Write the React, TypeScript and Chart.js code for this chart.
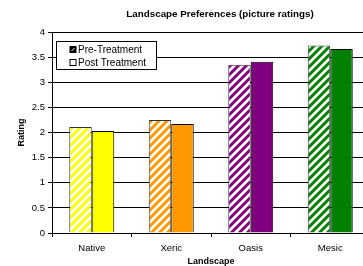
import React, { useEffect, useRef } from "react";
import { Chart, registerables } from "chart.js";

Chart.register(...registerables);

const categories = ["Native", "Xeric", "Oasis", "Mesic"];
const preTreatment = [2.11, 2.25, 3.35, 3.73];
const postTreatment = [2.03, 2.17, 3.41, 3.66];
const barColors = ["#FFFF00", "#FF9900", "#800080", "#008000"];
const seriesLabels = ["Pre-Treatment", "Post Treatment"];
const yTicks = [0, 0.5, 1, 1.5, 2, 2.5, 3, 3.5, 4];
const chartTitle = "Landscape Preferences (picture ratings)";

const FONT = "Arial, 'Liberation Sans', sans-serif";

function makeStripePattern(ctx: CanvasRenderingContext2D, color: string) {
  const size = 8;
  const c = document.createElement("canvas");
  c.width = size;
  c.height = size;
  const p = c.getContext("2d")!;
  p.fillStyle = "#ffffff";
  p.fillRect(0, 0, size, size);
  p.strokeStyle = color;
  p.lineWidth = 3;
  p.lineCap = "square";
  p.beginPath();
  p.moveTo(0, size);
  p.lineTo(size, 0);
  p.moveTo(-size / 2, size / 2);
  p.lineTo(size / 2, -size / 2);
  p.moveTo(size / 2, size * 1.5);
  p.lineTo(size * 1.5, size / 2);
  p.stroke();
  return ctx.createPattern(c, "repeat")!;
}

const titlePlugin = {
  id: "fixedTitle",
  afterDraw(chart: any) {
    const ctx: CanvasRenderingContext2D = chart.ctx;
    ctx.save();
    ctx.font = `bold 9.8px ${FONT}`;
    ctx.fillStyle = "#000000";
    ctx.textAlign = "center";
    ctx.textBaseline = "middle";
    ctx.fillText(chartTitle, 220, 14);
    ctx.restore();
  },
};

const legendBoxPlugin = {
  id: "legendBox",
  afterDraw(chart: any) {
    const ctx: CanvasRenderingContext2D = chart.ctx;
    const left = chart.chartArea.left;
    const top = chart.chartArea.top;
    const x = left + 4.5;
    const y = top + 9.5;
    const w = 100;
    const h = 28;
    ctx.save();
    ctx.fillStyle = "#ffffff";
    ctx.fillRect(x, y, w, h);
    ctx.strokeStyle = "#000000";
    ctx.lineWidth = 1;
    ctx.strokeRect(x, y, w, h);
    const labels = chart.data.datasets.map((d: any) => d.label);
    ctx.font = `10px ${FONT}`;
    ctx.textBaseline = "middle";
    ctx.textAlign = "left";
    labels.forEach((lab: string, i: number) => {
      const cy = y + 8 + i * 13;
      const ix = x + 13.5;
      const iy = cy - 3;
      if (i === 0) {
        ctx.fillStyle = "#000000";
        ctx.fillRect(ix, iy, 6, 6);
        ctx.strokeStyle = "#ffffff";
        ctx.lineWidth = 1;
        ctx.beginPath();
        ctx.moveTo(ix + 1.5, iy + 4.5);
        ctx.lineTo(ix + 4.5, iy + 1.5);
        ctx.stroke();
        ctx.strokeStyle = "#000000";
        ctx.strokeRect(ix, iy, 6, 6);
      } else {
        ctx.fillStyle = "#ffffff";
        ctx.fillRect(ix, iy, 6, 6);
        ctx.strokeStyle = "#000000";
        ctx.lineWidth = 1;
        ctx.strokeRect(ix, iy, 6, 6);
      }
      ctx.fillStyle = "#000000";
      ctx.fillText(lab, x + 21.5, cy + 0.5);
    });
    ctx.restore();
  },
};

export default function App() {
  const ref = useRef<HTMLCanvasElement>(null);
  useEffect(() => {
    const canvas = ref.current!;
    const ctx = canvas.getContext("2d")!;
    const patterns = barColors.map((c) => makeStripePattern(ctx, c));
    const chart = new Chart(canvas, {
      type: "bar",
      data: {
        labels: categories,
        datasets: [
          {
            label: seriesLabels[0],
            data: preTreatment,
            backgroundColor: patterns as any,
            borderColor: "#333333",
            borderWidth: 1,
            categoryPercentage: 0.566,
            barPercentage: 1,
          },
          {
            label: seriesLabels[1],
            data: postTreatment,
            backgroundColor: barColors,
            borderColor: "#000000",
            borderWidth: 1,
            categoryPercentage: 0.566,
            barPercentage: 1,
          },
        ],
      },
      options: {
        responsive: false,
        animation: false,
        layout: { padding: { left: 0, right: 70, top: 32, bottom: 0 } },
        plugins: {
          legend: { display: false },
          tooltip: { enabled: false },
          title: { display: false },
        },
        scales: {
          x: {
            grid: {
              display: true,
              drawOnChartArea: false,
              drawTicks: true,
              tickLength: 4,
              color: "#000000",
              offset: true,
            },
            border: { display: true, color: "#000000", width: 1 },
            ticks: {
              color: "#000000",
              font: { family: FONT, size: 9.5 },
              padding: 6,
              maxRotation: 0,
            },
            title: {
              display: true,
              text: "Landscape",
              color: "#000000",
              font: { family: FONT, size: 9, weight: "bold", lineHeight: 1 },
              padding: { top: 0, bottom: 0 },
            },
            afterFit: (scale: any) => {
              scale.height = 33;
            },
          },
          y: {
            min: 0,
            max: 4,
            afterBuildTicks: (scale: any) => {
              scale.ticks = yTicks.map((v) => ({ value: v }));
            },
            grid: {
              color: "#000000",
              lineWidth: 1,
              drawTicks: true,
              tickLength: 4,
            },
            border: { display: true, color: "#000000", width: 1 },
            ticks: {
              color: "#000000",
              font: { family: FONT, size: 9.5 },
              padding: 3,
              callback: (v: any) => String(v),
            },
            title: {
              display: true,
              text: "Rating",
              color: "#000000",
              font: { family: FONT, size: 9, weight: "bold", lineHeight: 1.2 },
              padding: { top: 16.6, bottom: 0 },
            },
            afterFit: (scale: any) => {
              scale.width = 52;
            },
          },
        },
      },
      plugins: [legendBoxPlugin, titlePlugin],
    });
    return () => chart.destroy();
  }, []);
  return (
    <div
      style={{
        position: "fixed",
        left: 0,
        top: 0,
        width: 363,
        height: 266,
        overflow: "hidden",
        background: "#ffffff",
      }}
    >
      <canvas ref={ref} width={440} height={266} style={{ display: "block" }} />
    </div>
  );
}
